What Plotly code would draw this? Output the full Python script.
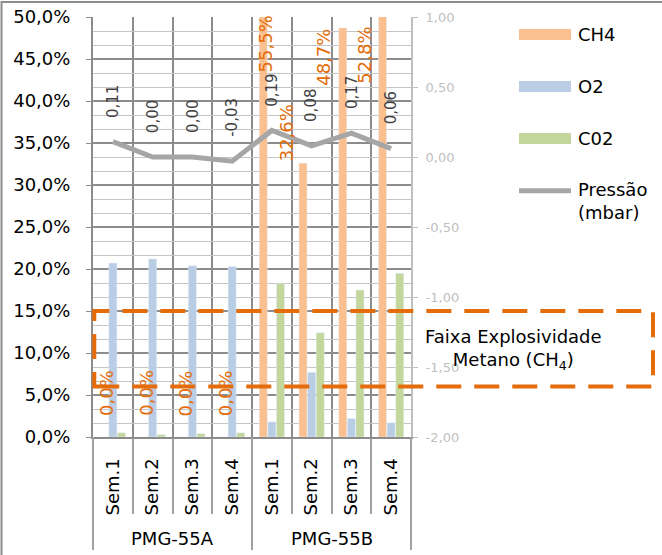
import plotly.graph_objects as go

# ---------------- data ----------------
groups = ["PMG-55A", "PMG-55B"]
weeks = ["Sem.1", "Sem.2", "Sem.3", "Sem.4"]
week_labels = weeks * len(groups)

ch4 = [0.0, 0.0, 0.0, 0.0, 55.5, 32.6, 48.7, 52.8]
o2 = [20.7, 21.2, 20.4, 20.3, 1.8, 7.7, 2.2, 1.7]
co2 = [0.5, 0.3, 0.4, 0.5, 18.3, 12.4, 17.5, 19.5]
pressao = [0.11, 0.00, 0.00, -0.03, 0.19, 0.08, 0.17, 0.06]

left_range = [0, 50]
right_range = [-2.0, 1.0]
right_ticks = [-2.0, -1.5, -1.0, -0.5, 0.0, 0.5, 1.0]
explosive_band = [6.0, 15.0]

# label placement tweaks (style only)
ch4_label_dx = [-7, -7, -7, -7, -6, -25, -28, -27]

FONT = "DejaVu Sans"
ORANGE = "#E46C0A"
DARK_GRID = "#8C8C8C"
LIGHT_GRID = "#C4C4C4"


def fmt(v, nd):
    return f"{v:.{nd}f}".replace(".", ",")


x = list(range(len(week_labels)))

fig = go.Figure()
fig.add_trace(go.Bar(x=x, y=ch4, name="CH4", marker_color="#FAC090", showlegend=False))
fig.add_trace(go.Bar(x=x, y=o2, name="O2", marker_color="#B9CDE5", showlegend=False))
fig.add_trace(go.Bar(x=x, y=co2, name="C02", marker_color="#C3D69B", showlegend=False))
fig.add_trace(go.Scatter(x=x, y=pressao, name="Pressão (mbar)", yaxis="y2", mode="lines",
                         line=dict(color="#A6A6A6", width=5), showlegend=False))

annotations = []
# CH4 data labels
for i, v in enumerate(ch4):
    shown = min(v, left_range[1])
    if v == 0:
        anchor, shift = "bottom", 19
    elif v > left_range[1]:
        anchor, shift = "top", 4 if i == 4 else -8
    elif v > 40:
        anchor, shift = "top", 1
    else:
        anchor, shift = "bottom", 0
    annotations.append(dict(x=x[i], y=shown, xref="x", yref="y", text=fmt(v, 1) + "%",
                            textangle=-90, showarrow=False, yanchor=anchor, yshift=shift,
                            xshift=ch4_label_dx[i],
                            font=dict(family=FONT, size=18, color=ORANGE)))
# Pressão data labels
for i, v in enumerate(pressao):
    annotations.append(dict(x=x[i], y=v, xref="x", yref="y2", text=fmt(v, 2),
                            textangle=-90, showarrow=False, yanchor="bottom", yshift=22,
                            font=dict(family=FONT, size=15, color="#404040")))
# group labels
n_per = len(weeks)
for gi, g in enumerate(groups):
    annotations.append(dict(x=gi * n_per + (n_per - 1) / 2, y=-0.2405, xref="x", yref="paper",
                            text=g, showarrow=False, yanchor="middle",
                            font=dict(family=FONT, size=18, color="#000000")))
# band label
annotations.append(dict(x=1.3208, y=0.2095, xref="paper", yref="paper",
                        text="Faixa Explosividade<br>Metano (CH<sub>4</sub>)",
                        showarrow=False, xanchor="center", yanchor="middle", align="center",
                        font=dict(family=FONT, size=18, color="#000000")))

# manual legend
legend_items = [("CH4", "#FAC090", 0.9583), ("O2", "#B9CDE5", 0.8345), ("C02", "#C3D69B", 0.7107)]
shapes = []
for name, col, yc in legend_items:
    shapes.append(dict(type="rect", xref="paper", yref="paper", x0=1.3396, x1=1.5031,
                       y0=yc - 0.013, y1=yc + 0.013, fillcolor=col, line=dict(width=0)))
    annotations.append(dict(x=1.5189, y=yc, xref="paper", yref="paper", text=name,
                            showarrow=False, xanchor="left", yanchor="middle",
                            font=dict(family=FONT, size=18, color="#000000")))
shapes.append(dict(type="line", xref="paper", yref="paper", x0=1.3396, x1=1.5031,
                   y0=0.5864, y1=0.5864, line=dict(color="#A6A6A6", width=5)))
annotations.append(dict(x=1.5189, y=0.5619, xref="paper", yref="paper", text="Pressão<br>(mbar)",
                        showarrow=False, xanchor="left", yanchor="middle", align="left",
                        font=dict(family=FONT, size=18, color="#000000")))

# dashed band box
shapes.append(dict(type="rect", xref="paper", yref="y", x0=0.004, x1=1.761,
                   y0=explosive_band[0], y1=explosive_band[1],
                   line=dict(color=ORANGE, width=4, dash="25px,13px"), fillcolor="rgba(0,0,0,0)"))
# group dividers below axis
for px in [0, 0.5, 1]:
    shapes.append(dict(type="line", xref="paper", yref="paper", x0=px, x1=px, y0=0, y1=-0.269,
                       line=dict(color="#A0A0A0", width=2)))
# outer border
shapes.append(dict(type="rect", xref="paper", yref="paper", x0=-0.2877, x1=1.85, y0=1.0357, y1=-0.33,
                   line=dict(color="#8C8C8C", width=2), fillcolor="rgba(0,0,0,0)"))

fig.update_layout(
    width=662, height=555, autosize=False,
    margin=dict(l=93, r=251, t=17, b=118, pad=0, autoexpand=False),
    paper_bgcolor="white", plot_bgcolor="white",
    separators=",.",
    barmode="group", bargap=0.35, bargroupgap=0.07,
    showlegend=False,
    font=dict(family=FONT, size=18, color="#000000"),
    xaxis=dict(range=[-0.5, len(x) - 0.5], tickmode="array", tickvals=x, ticktext=week_labels,
               tickangle=-90, showgrid=False, zeroline=False, showline=True, linecolor=DARK_GRID,
               linewidth=2, ticks="", ticklabelstandoff=12, automargin=False,
               tickfont=dict(family=FONT, size=18, color="#000000"),
               minor=dict(tickmode="array", tickvals=[i + 0.5 for i in x[:-1]], showgrid=True,
                          gridcolor=DARK_GRID, gridwidth=2, ticks="outside", ticklen=75,
                          tickcolor="#A0A0A0", tickwidth=2)),
    yaxis=dict(range=left_range, dtick=5, tickformat=".1f", ticksuffix="%", showgrid=True,
               gridcolor=DARK_GRID, gridwidth=2, zeroline=False, showline=True,
               linecolor=DARK_GRID, linewidth=2, ticks="outside", ticklen=5, tickcolor=DARK_GRID,
               ticklabelstandoff=12, automargin=False,
               tickfont=dict(family=FONT, size=18, color="#000000"),
               minor=dict(dtick=5 / 3, tick0=0, showgrid=True, gridcolor=LIGHT_GRID, gridwidth=1)),
    yaxis2=dict(range=right_range, overlaying="y", side="right", tickmode="array",
                tickvals=right_ticks, ticktext=[fmt(t, 2) for t in right_ticks],
                showgrid=False, zeroline=False, showline=True, linecolor="#BFBFBF", linewidth=2,
                ticks="outside", ticklen=5, tickcolor="#BFBFBF", ticklabelstandoff=5,
                automargin=False,
                tickfont=dict(family=FONT, size=13, color="#BFBFBF")),
    annotations=annotations,
    shapes=shapes,
)

fig.write_html("out.html", config={"displayModeBar": False},
               post_script="document.body.style.margin='0';document.body.style.overflow='hidden';")
